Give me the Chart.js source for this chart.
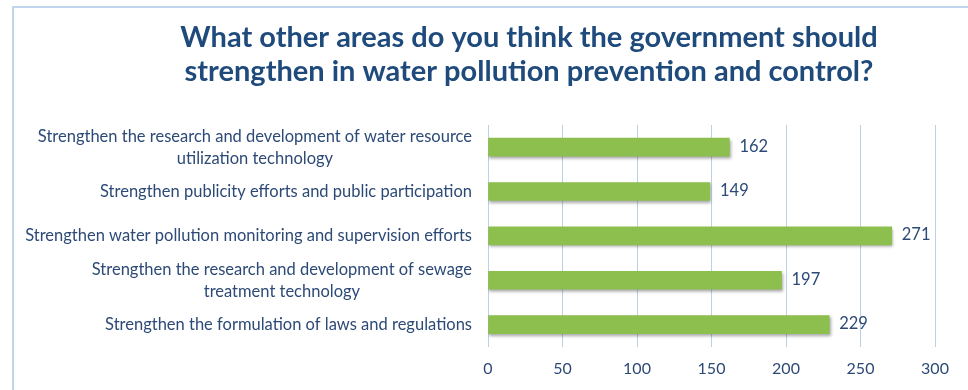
<!DOCTYPE html>
<html>
<head>
<meta charset="utf-8">
<script src="https://cdn.jsdelivr.net/npm/chart.js@4/dist/chart.umd.min.js"></script>
<style>
  html, body { margin: 0; padding: 0; background: #fff; }
  #wrap { position: relative; width: 968px; height: 390px; }
</style>
</head>
<body>
<div id="wrap"><canvas id="surveyChart" width="968" height="390"></canvas></div>
<script>
const titleLines = [
    'What other areas do you think the government should',
    'strengthen in water pollution prevention and control?'
];
const categories = [
    ['Strengthen the research and development of water resource', 'utilization technology'],
    ['Strengthen publicity efforts and public participation'],
    ['Strengthen water pollution monitoring and supervision efforts'],
    ['Strengthen the research and development of sewage', 'treatment technology'],
    ['Strengthen the formulation of laws and regulations']
];
const responses = [162, 149, 271, 197, 229];
const axisTicks = [0, 50, 100, 150, 200, 250, 300];

const labelFont = '16.5px Lato';
const textColor = '#2D4A77';

// office style chart border (left and top edge visible)
const framePlugin = {
    id: 'frame',
    beforeDraw(chart) {
        const ctx = chart.ctx;
        ctx.save();
        ctx.fillStyle = '#fff';
        ctx.fillRect(0, 0, chart.width, chart.height);
        ctx.strokeStyle = '#C3D5EC';
        ctx.lineWidth = 2;
        ctx.beginPath();
        ctx.moveTo(13, chart.height);
        ctx.lineTo(13, 7);
        ctx.lineTo(chart.width, 7);
        ctx.stroke();
        ctx.restore();
    }
};

// category labels: each block right aligned, lines centred inside the block
const categoryLabels = {
    id: 'categoryLabels',
    afterDraw(chart) {
        const ctx = chart.ctx;
        const y = chart.scales.y;
        ctx.save();
        ctx.font = labelFont;
        ctx.fillStyle = textColor;
        ctx.textAlign = 'center';
        ctx.textBaseline = 'middle';
        const right = chart.chartArea.left - 16;
        const lineH = 22;
        categories.forEach((lines, i) => {
            const cy = y.getPixelForTick(i);
            const w = Math.max(...lines.map(l => ctx.measureText(l).width));
            const top = cy - (lines.length - 1) * lineH / 2;
            lines.forEach((l, j) => ctx.fillText(l, right - w / 2, top + j * lineH));
        });
        ctx.restore();
    }
};

const barShadow = {
    id: 'barShadow',
    beforeDatasetsDraw(chart) {
        const ctx = chart.ctx;
        ctx.save();
        ctx.shadowColor = 'rgba(0,0,0,0.35)';
        ctx.shadowBlur = 3;
        ctx.shadowOffsetX = 1;
        ctx.shadowOffsetY = 2;
    },
    afterDatasetsDraw(chart) {
        chart.ctx.restore();
        const ctx = chart.ctx;
        ctx.save();
        ctx.font = labelFont;
        ctx.fillStyle = textColor;
        ctx.textAlign = 'left';
        ctx.textBaseline = 'middle';
        chart.getDatasetMeta(0).data.forEach((bar, i) => {
            ctx.fillText(String(responses[i]), bar.x + 10, bar.y - 1);
        });
        ctx.restore();
    }
};

const ctx = document.getElementById('surveyChart').getContext('2d');

new Chart(ctx, {
    type: 'bar',
    data: {
        labels: categories,
        datasets: [{
            data: responses,
            backgroundColor: function(context) {
                const bar = context.element;
                if (!bar || bar.y === undefined) return '#8CBF4E';
                const h = 18;
                const g = context.chart.ctx.createLinearGradient(0, bar.y - h / 2, 0, bar.y + h / 2);
                g.addColorStop(0, '#A3CE63');
                g.addColorStop(0.5, '#8ABD4B');
                g.addColorStop(1, '#6C9B34');
                return g;
            },
            borderWidth: 0,
            barThickness: 18
        }]
    },
    options: {
        indexAxis: 'y',
        responsive: false,
        animation: false,
        layout: {
            padding: { left: 123, right: 33, top: 0, bottom: 0 }
        },
        plugins: {
            legend: { display: false },
            tooltip: { enabled: false },
            title: {
                display: true,
                text: titleLines,
                color: '#1F4A7C',
                font: { family: 'Lato', size: 29, weight: 'bold', lineHeight: 34 / 29 },
                padding: { top: 21, bottom: 36 }
            }
        },
        scales: {
            x: {
                min: 0,
                max: 300,
                afterBuildTicks(scale) {
                    scale.ticks = axisTicks.map(v => ({ value: v }));
                },
                grid: { color: '#BCD0EA', drawTicks: false, lineWidth: 1 },
                border: { display: false },
                ticks: {
                    color: textColor,
                    font: { family: 'Lato', size: 16 },
                    padding: 12
                }
            },
            y: {
                grid: { display: false },
                border: { display: false },
                ticks: { display: false },
                afterFit(scale) {
                    scale.width = 365;
                }
            }
        }
    },
    plugins: [framePlugin, barShadow, categoryLabels]
});
</script>
</body>
</html>
